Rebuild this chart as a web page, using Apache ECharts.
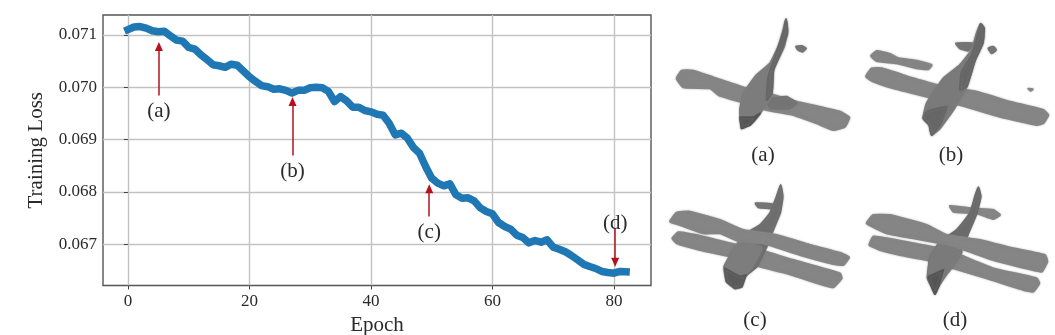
<!DOCTYPE html>
<html><head><meta charset="utf-8">
<style>html,body{margin:0;padding:0;background:#fff}#c{width:1055px;height:335px}</style>
<script src="https://cdn.jsdelivr.net/npm/echarts@6/dist/echarts.min.js"></script>
</head><body><div id="c"></div>
<script>
const epochs = [0,1,2,3,4,5,6,7,8,9,10,11,12,13,14,15,16,17,18,19,20,21,22,23,24,25,26,27,28,29,30,31,32,33,34,35,36,37,38,39,40,41,42,43,44,45,46,47,48,49,50,51,52,53,54,55,56,57,58,59,60,61,62,63,64,65,66,67,68,69,70,71,72,73,74,75,76,77,78,79,80,81,82];
const loss = [0.07110,0.07115,0.07116,0.07113,0.07108,0.07106,0.07107,0.07098,0.07090,0.07088,0.07076,0.07073,0.07062,0.07053,0.07043,0.07041,0.07038,0.07044,0.07042,0.07031,0.07020,0.07011,0.07003,0.07001,0.06996,0.06997,0.06994,0.06989,0.06994,0.06994,0.06999,0.07000,0.06999,0.06992,0.069726,0.069822,0.069739,0.069618,0.069618,0.069554,0.069529,0.069484,0.069465,0.069312,0.069089,0.069121,0.069025,0.068847,0.068739,0.068484,0.068261,0.068166,0.068115,0.068153,0.067943,0.067879,0.067885,0.067828,0.067694,0.067624,0.067580,0.067414,0.067338,0.067287,0.067172,0.067127,0.067025,0.067070,0.067038,0.067083,0.066943,0.066904,0.066854,0.066783,0.066701,0.066618,0.066573,0.066535,0.066478,0.066459,0.066446,0.066478,0.066471];
const xTicks = [0,20,40,60,80];
const yTicks = [0.067,0.068,0.069,0.070,0.071];
const noteNames = ['(a)','(b)','(c)','(d)'];
const noteX = [5.1,27.1,49.6,80.2];
const arrowFrom = [0.069841,0.068694,0.067529,0.067306];
const arrowTo = [0.070777,0.069726,0.068057,0.066656];
const noteY = [0.069535,0.068389,0.067229,0.067389];

const FONT = '"Liberation Serif", serif', INK = '#2a2a2a';
const GREY = '#858585', DARK = '#666666', MID = '#747474';

function poly(points, fill, smooth) {
  return {type:'polygon', shape:{points:points, smooth:smooth===undefined?0.12:smooth},
    style:{fill:fill, stroke:fill, lineWidth:6, lineJoin:'round', shadowBlur:2, shadowColor:'rgba(130,130,130,0.6)'}, silent:true};
}
function plane(x, y, children){ return {type:'group', x:x, y:y, scaleX:1/3, scaleY:1/3, silent:true, children:children}; }
function caption(t, x, y){ return {type:'text', x:x, y:y, silent:true, style:{text:t, font:'21px '+FONT, fill:INK, align:'center', verticalAlign:'middle'}}; }

const top2 = [
  // (a)
  poly([[50,235],[65,212],[100,212],[160,232],[260,265],[340,285],[410,305],[540,335],[568,352],[555,380],[520,390],[470,370],[400,345],[320,330],[240,305],[175,285],[150,265],[70,262]],GREY),
  poly([[320,300],[380,290],[410,310],[390,325],[330,325]],MID),
  poly([[378,58],[382,90],[372,140],[340,210],[335,285],[300,340],[275,370],[245,385],[240,330],[250,280],[290,225],[330,190],[355,140],[370,90]],'#7c7c7c'),
  poly([[378,58],[382,100],[365,150],[340,210],[335,280],[320,300],[325,230],[345,170],[370,100]],DARK),
  poly([[240,352],[280,352],[300,340],[270,375],[245,385]],'#555555',0),
  poly([[408,140],[425,138],[438,145],[428,155],[415,150]],MID),
  // (b)
  poly([[633,168],[650,153],[690,162],[715,175],[770,182],[815,195],[805,208],[770,205],[710,190],[650,183]],GREY),
  poly([[618,230],[635,205],[665,205],[760,235],[850,260],[950,275],[1050,305],[1150,330],[1165,345],[1150,370],[1130,375],[1020,350],[900,315],[800,290],[700,265],[640,245]],GREY),
  poly([[888,130],[940,130],[925,152],[900,145]],MID),
  poly([[985,145],[1000,140],[1008,150],[995,160]],MID),
  poly([[1105,266],[1118,268],[1112,272]],GREY,0),
  poly([[962,72],[972,85],[968,130],[945,180],[920,260],[880,330],[840,385],[815,405],[808,375],[790,355],[800,310],[850,235],[900,195],[935,150],[950,100]],'#7a7a7a'),
  poly([[962,72],[972,85],[968,130],[945,180],[920,260],[900,270],[905,215],[935,165],[952,110]],DARK),
  poly([[800,335],[860,320],[840,375],[815,405],[808,375],[790,355]],DARK)
];
const bottom2 = [
  // (c)
  poly([[37,205],[55,187],[110,195],[230,225],[300,240],[400,270],[540,310],[545,325],[520,352],[490,345],[380,310],[300,290],[220,262],[120,240],[50,220]],GREY),
  poly([[287,100],[340,103],[335,115],[295,112]],MID),
  poly([[362,45],[368,80],[360,130],[335,190],[320,230],[290,290],[255,320],[245,350],[225,355],[200,335],[193,290],[230,225],[260,190],[300,165],[330,130],[350,80]],'#6e6e6e'),
  poly([[30,155],[50,128],[90,125],[180,150],[250,180],[350,195],[450,225],[545,250],[567,262],[550,285],[520,282],[420,255],[310,220],[240,215],[180,190],[130,190],[60,165]],GREY),
  poly([[235,220],[305,232],[280,285],[250,318],[195,295]],'#7d7d7d'),
  poly([[195,295],[240,320],[258,315],[245,350],[225,355],[200,335]],'#5a5a5a',0),
  // (d)
  poly([[628,225],[640,200],[680,205],[760,220],[840,235],[900,255],[1000,295],[1130,325],[1138,340],[1120,365],[1090,360],[980,325],[880,295],[800,270],[720,255],[660,240]],GREY),
  poly([[870,108],[935,115],[1000,120],[1020,135],[1000,147],[950,130],[880,125]],GREY),
  poly([[955,52],[962,80],[950,130],[925,190],[900,250],[860,310],[835,350],[825,372],[815,350],[803,325],[810,265],[840,215],[890,180],[930,130],[945,80]],'#6a6a6a'),
  poly([[620,160],[640,135],[690,135],[800,165],[860,195],[960,210],[1060,235],[1155,255],[1162,275],[1145,305],[1110,298],[1000,270],[900,235],[840,220],[760,205],[680,190]],GREY),
  poly([[835,225],[905,245],[870,300],[830,345],[805,320],[812,265]],'#7a7a7a'),
  poly([[805,320],[850,300],[835,350],[825,372],[815,350]],'#555555',0)
];

const chart = echarts.init(document.getElementById('c'), null, {renderer:'canvas'});
chart.setOption({
  animation:false,
  backgroundColor:'#fff',
  grid:{left:103, top:15, width:548, height:270.5, outerBoundsMode:'none', containLabel:false, show:true, borderColor:'#555', borderWidth:1.4, backgroundColor:'transparent'},
  xAxis:{type:'value', min:-4.1, max:86.1, interval:20,
    name:'Epoch', nameLocation:'middle', nameGap:26,
    nameTextStyle:{fontFamily:FONT, fontSize:21, color:INK},
    axisLine:{show:false},
    axisTick:{length:4, customValues:xTicks, lineStyle:{color:'#444',width:1}},
    axisLabel:{customValues:xTicks, fontFamily:FONT, fontSize:17, color:INK, margin:8, formatter:v=>String(v)},
    splitLine:{show:true, lineStyle:{color:'#c2c2c2', width:1.4}}},
  yAxis:{type:'value', min:0.06621, max:0.07138, interval:0.001,
    name:'Training Loss', nameLocation:'middle', nameGap:56,
    nameTextStyle:{fontFamily:FONT, fontSize:21, color:INK},
    axisLine:{show:false},
    axisTick:{length:4, customValues:yTicks, lineStyle:{color:'#444',width:1}},
    axisLabel:{customValues:yTicks, fontFamily:FONT, fontSize:17, color:INK, margin:6, formatter:v=>v.toFixed(3)},
    splitLine:{show:true, lineStyle:{color:'#c2c2c2', width:1.4}}},
  series:[
    {type:'line', data:epochs.map((e,i)=>[e,loss[i]]), showSymbol:false, symbol:'none', z:3,
     lineStyle:{color:'#1f77b4', width:7.5, join:'round', cap:'square'},
     markLine:{silent:true, animation:false, z:4, symbol:['none','triangle'], symbolSize:[8,9], label:{show:false},
       lineStyle:{color:'#b5101e', width:1.5, type:'solid'},
       data:noteX.map((x,i)=>[{coord:[x,arrowFrom[i]]},{coord:[x,arrowTo[i]]}])}},
    {type:'scatter', data:noteX.map((x,i)=>({value:[x,noteY[i]], name:noteNames[i]})), symbolSize:0, silent:true, z:5,
     itemStyle:{opacity:1},
     label:{show:true, position:'inside', formatter:p=>p.name, fontFamily:FONT, fontSize:21, color:INK, opacity:1, textBorderWidth:0}}
  ],
  graphic:[
    plane(660,0,top2),
    plane(660,170,bottom2),
    caption('(a)',763,155), caption('(b)',951,155),
    caption('(c)',755,320), caption('(d)',955,320)
  ]
});
</script></body></html>
